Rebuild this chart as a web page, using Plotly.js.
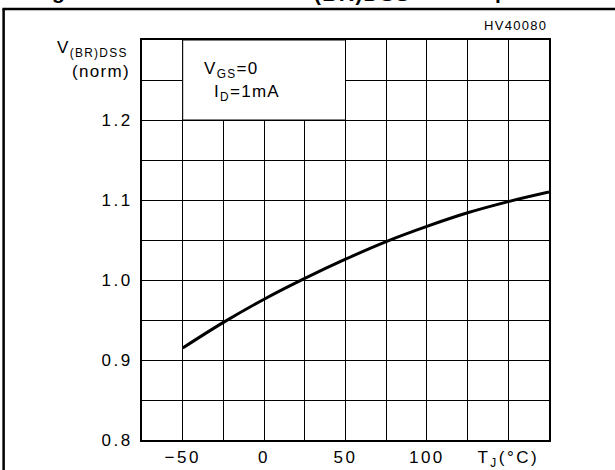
<!DOCTYPE html>
<html>
<head>
<meta charset="utf-8">
<script src="https://cdn.plot.ly/plotly-3.0.1.min.js"></script>
<style>
  html, body { margin: 0; padding: 0; background: #fff; }
  #chart { width: 615px; height: 470px; }
  .xtick text, .ytick text { letter-spacing: 2.5px; }
  .annotation-text { letter-spacing: 1.3px; }
</style>
</head>
<body>
<div id="chart"></div>
<script>
// Junction temperature (°C) and normalized breakdown voltage
const tempC = [-50, -25, 0, 25, 50, 75, 100, 125, 150, 175];
const vbrNorm = [0.915, 0.947, 0.976, 1.002, 1.026, 1.048, 1.067, 1.084, 1.098, 1.110];

// Axis ticks / labels
const xTickVals = [-50, -25, 0, 25, 50, 75, 100, 125, 150];
const xTickText = ["\u221250", "", "0", "", "50", "", "100", "", "T<sub>J</sub>(\u00B0C)"];
const yTickVals = [0.8, 0.85, 0.9, 0.95, 1.0, 1.05, 1.1, 1.15, 1.2, 1.25];
const yTickText = ["0.8", "", "0.9", "", "1.0", "", "1.1", "", "1.2", ""];

const fontFam = "Liberation Sans, Arial, sans-serif";

const trace = {
  x: tempC,
  y: vbrNorm,
  type: "scatter",
  mode: "lines",
  line: { color: "#000", width: 3, shape: "spline", smoothing: 1 },
  hoverinfo: "skip",
  showlegend: false
};

const layout = {
  width: 615,
  height: 470,
  margin: { l: 142, r: 66, t: 40, b: 30 },
  paper_bgcolor: "#fff",
  plot_bgcolor: "#fff",
  font: { family: fontFam, size: 17, color: "#000" },
  showlegend: false,
  xaxis: {
    range: [-75, 175],
    tickmode: "array",
    tickvals: xTickVals,
    ticktext: xTickText,
    showgrid: true,
    gridcolor: "#000",
    gridwidth: 1,
    zeroline: false,
    showline: true,
    mirror: true,
    linecolor: "#000",
    linewidth: 2,
    ticks: "outside",
    ticklen: 0,
    ticklabelstandoff: 1,
    tickfont: { family: fontFam, size: 17, color: "#000" },
    fixedrange: true
  },
  yaxis: {
    range: [0.8, 1.3],
    tickmode: "array",
    tickvals: yTickVals,
    ticktext: yTickText,
    showgrid: true,
    gridcolor: "#000",
    gridwidth: 1,
    zeroline: false,
    showline: true,
    mirror: true,
    linecolor: "#000",
    linewidth: 2,
    ticks: "outside",
    ticklen: 0,
    ticklabelstandoff: 4,
    tickfont: { family: fontFam, size: 17, color: "#000" },
    fixedrange: true
  },
  shapes: [
    // white legend box covering the grid
    { type: "rect", xref: "x", yref: "y", x0: -50, x1: 50, y0: 1.2, y1: 1.3,
      fillcolor: "#fff", line: { color: "#000", width: 1 }, layer: "between" },
    // outer figure frame (left and top edges)
    { type: "line", xref: "paper", yref: "paper", x0: -0.34, x1: -0.34, y0: 1.0775, y1: -0.1,
      line: { color: "#000", width: 2.5 } },
    { type: "line", xref: "paper", yref: "paper", x0: -0.343, x1: 1.2, y0: 1.0775, y1: 1.0775,
      line: { color: "#000", width: 2.5 } }
  ],
  annotations: [
    { text: "HV40080", xref: "paper", yref: "paper", x: 1.0, y: 1.012,
      xanchor: "right", yanchor: "bottom", showarrow: false,
      font: { family: fontFam, size: 13, color: "#000" } },
    { text: "V<sub>(BR)DSS</sub>", xref: "paper", yref: "paper", x: -0.03, y: 0.978,
      xanchor: "right", yanchor: "middle", showarrow: false, align: "right",
      font: { family: fontFam, size: 17, color: "#000" } },
    { text: "(norm)", xref: "paper", yref: "paper", x: -0.025, y: 0.92,
      xanchor: "right", yanchor: "middle", showarrow: false, align: "right",
      font: { family: fontFam, size: 17, color: "#000" } },
    { text: "V<sub>GS</sub>=0", xref: "x", yref: "y", x: -38, y: 1.2625,
      xanchor: "left", yanchor: "middle", showarrow: false,
      font: { family: fontFam, size: 17, color: "#000" } },
    { text: "I<sub>D</sub>=1mA", xref: "x", yref: "y", x: -32, y: 1.234,
      xanchor: "left", yanchor: "middle", showarrow: false,
      font: { family: fontFam, size: 17, color: "#000" } },
    // cut-off caption remnants above the frame
    { text: "g", xref: "paper", yref: "paper", x: -0.225, y: 1.12,
      xanchor: "left", yanchor: "middle", showarrow: false,
      font: { family: fontFam, size: 21, color: "#000", weight: 700 } },
    { text: "(BR)DSS", xref: "paper", yref: "paper", x: 0.418, y: 1.116,
      xanchor: "left", yanchor: "middle", showarrow: false,
      font: { family: fontFam, size: 21, color: "#000", weight: 700 } },
    { text: "p", xref: "paper", yref: "paper", x: 0.863, y: 1.12,
      xanchor: "left", yanchor: "middle", showarrow: false,
      font: { family: fontFam, size: 21, color: "#000", weight: 700 } }
  ]
};

Plotly.newPlot("chart", [trace], layout, { staticPlot: true, displayModeBar: false });
</script>
</body>
</html>
